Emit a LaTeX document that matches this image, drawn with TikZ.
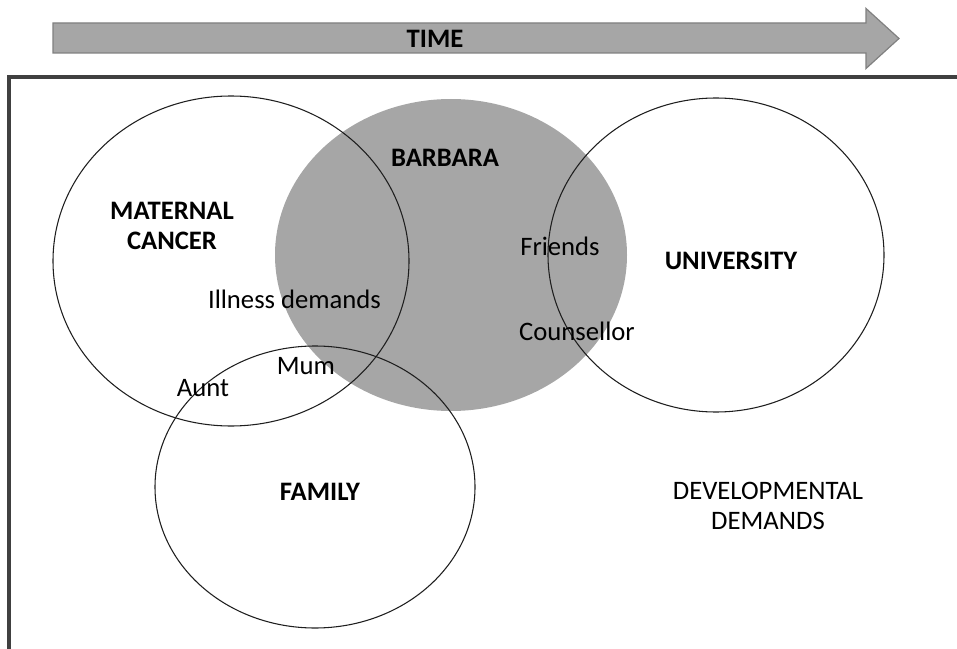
\documentclass[tikz,border=0pt]{standalone}
\usepackage{fontspec}
\setmainfont{Carlito}
\tikzset{every picture/.style={line width=0.75pt}}
\tikzset{
	lbl/.style={font=\fontsize{20}{22.5}\selectfont, align=center, inner sep=0pt},
	bold lbl/.style={lbl, font=\fontsize{20}{22.5}\selectfont\bfseries},
	ring/.style={draw={rgb, 255:red, 30; green, 30; blue, 30 }, line width=0.8pt}}

\begin{document}
\begin{tikzpicture}[x=0.75pt,y=0.75pt,yscale=-1,xscale=1]
	\useasboundingbox (0,0) rectangle (957,649);

	%Shape: Right Arrow
	\draw [draw={rgb, 255:red, 128; green, 128; blue, 128 }, fill={rgb, 255:red, 166; green, 166; blue, 166 }, line width=0.9pt] (53,23) -- (866,23) -- (866,8.5) -- (899,38.5) -- (866,68.5) -- (866,53) -- (53,53) -- cycle ;
	%Straight Lines
	\draw [draw={rgb, 255:red, 64; green, 64; blue, 64 }, line width=2.4pt] (9,649) -- (9,77) -- (957,77) ;

	%Shape: Ellipse
	\fill [fill={rgb, 255:red, 166; green, 166; blue, 166 }] (451,255) ellipse [x radius=176, y radius=156] ;
	%Shape: Ellipse
	\draw [ring] (231,261) ellipse [x radius=178, y radius=165] ;
	%Shape: Ellipse
	\draw [ring] (716,255) ellipse [x radius=168, y radius=157] ;
	%Shape: Ellipse
	\draw [ring] (315,487) ellipse [x radius=160, y radius=141] ;

	% Text Node
	\node [bold lbl] (time) at (435,39) {TIME};
	% Text Node
	\node [bold lbl] (barbara) at (445,158) {BARBARA};
	% Text Node
	\node [bold lbl] (cancer) at (172,226) {MATERNAL\\CANCER};
	% Text Node
	\node [bold lbl] (university) at (731,261) {UNIVERSITY};
	% Text Node
	\node [bold lbl] (family) at (320,492) {FAMILY};
	% Text Node
	\node [lbl] (illness) at (294.5,299) {Illness demands};
	% Text Node
	\node [lbl] (friends) at (560,246) {Friends};
	% Text Node
	\node [lbl] (counsellor) at (577,331) {Counsellor};
	% Text Node
	\node [lbl] (mum) at (306,366) {Mum};
	% Text Node
	\node [lbl] (aunt) at (203,388) {Aunt};
	% Text Node
	\node [lbl] (develop) at (768,506) {DEVELOPMENTAL\\DEMANDS};

\end{tikzpicture}
\end{document}
